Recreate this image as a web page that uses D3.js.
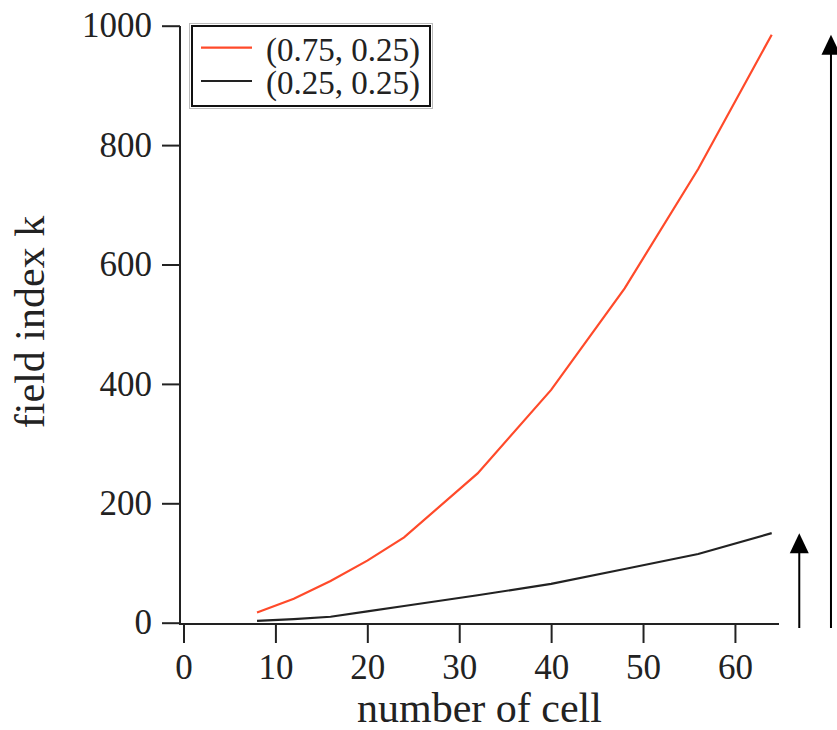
<!DOCTYPE html>
<html>
<head>
<meta charset="utf-8">
<script src="https://cdn.jsdelivr.net/npm/d3@7"></script>
<style>
  body { margin: 0; background: #fff; }
  text { font-family: "Liberation Serif", "DejaVu Serif", serif; fill: #222; }
</style>
</head>
<body>
<svg></svg>
<script>
var width = 837;
var height = 730;

// number of cells
var cells = [8, 12, 16, 20, 24, 32, 40, 48, 56, 64];
// field index k for (0.75, 0.25)
var kHigh = [17, 40, 70, 104, 143, 250, 390, 560, 760, 985];
// field index k for (0.25, 0.25)
var kLow = [3, 6, 10, 19, 28, 46, 65, 90, 115, 150];

var seriesNames = ["(0.75, 0.25)", "(0.25, 0.25)"];
var seriesColors = ["#ff4a2a", "#222222"];

var xTicks = [0, 10, 20, 30, 40, 50, 60];
var yTicks = [0, 200, 400, 600, 800, 1000];

// arrows on the right mark the final values
var arrowX = [67, 70.45];

var x = d3.scaleLinear().domain([0, 64]).range([183.5, 771.7]);
var y = d3.scaleLinear().domain([0, 1000]).range([622.7, 25.7]);

var svg = d3.select("svg").attr("width", width).attr("height", height);

// axis lines (the L shape)
svg.append("path")
  .attr("d", `M180,26 V624 H779`)
  .attr("fill", "none")
  .attr("stroke", "#222")
  .attr("stroke-width", 2);

var yAxis = svg.append("g")
  .attr("transform", "translate(180,0)")
  .call(d3.axisLeft(y).tickValues(yTicks).tickFormat(d3.format("d")).tickSize(18).tickPadding(10));
var xAxis = svg.append("g")
  .attr("transform", "translate(0,624)")
  .call(d3.axisBottom(x).tickValues(xTicks).tickFormat(d3.format("d")).tickSize(19).tickPadding(11));

[xAxis, yAxis].forEach(function (g) {
  g.select(".domain").remove();
  g.selectAll(".tick line").attr("stroke", "#222").attr("stroke-width", 2);
  g.selectAll(".tick text")
    .attr("font-family", "Liberation Serif")
    .attr("font-size", 35)
    .attr("fill", "#222");
});

// axis titles
svg.append("text")
  .attr("x", 479.5)
  .attr("y", 722)
  .attr("text-anchor", "middle")
  .attr("font-size", 42)
  .text("number of cell");

svg.append("text")
  .attr("transform", "translate(44,322) rotate(-90)")
  .attr("text-anchor", "middle")
  .attr("font-size", 42)
  .text("field index k");

// lines
var line = d3.line()
  .x((d) => x(d[0]))
  .y((d) => y(d[1]));

var series = [kHigh, kLow];
svg.selectAll(".series")
  .data(series)
  .enter()
  .append("path")
  .classed("series", true)
  .attr("fill", "none")
  .attr("stroke", (d, i) => seriesColors[i])
  .attr("stroke-width", 2.2)
  .attr("d", (d) => line(cells.map((c, j) => [c, d[j]])));

// arrows up to the last value of each series
var lastValues = [kLow[kLow.length - 1], kHigh[kHigh.length - 1]];
lastValues.forEach(function (v, i) {
  var ax = x(arrowX[i]);
  var tip = y(v);
  svg.append("line")
    .attr("x1", ax).attr("x2", ax)
    .attr("y1", 628).attr("y2", tip + 18)
    .attr("stroke", "#000")
    .attr("stroke-width", 2);
  svg.append("path")
    .attr("d", `M${ax},${tip} L${ax - 9.5},${tip + 20} L${ax + 9.5},${tip + 20} Z`)
    .attr("fill", "#000");
});

// legend
var legend = svg.append("g");
legend.append("rect")
  .attr("x", 189.5).attr("y", 23.5)
  .attr("width", 243).attr("height", 85)
  .attr("fill", "#fff")
  .attr("stroke", "#bbb")
  .attr("stroke-width", 1);
legend.append("rect")
  .attr("x", 192).attr("y", 26)
  .attr("width", 238).attr("height", 80)
  .attr("fill", "none")
  .attr("stroke", "#111")
  .attr("stroke-width", 2);

seriesNames.forEach(function (name, i) {
  var ly = 47.7 + i * 33.3;
  legend.append("line")
    .attr("x1", 201).attr("x2", 252)
    .attr("y1", ly).attr("y2", ly)
    .attr("stroke", seriesColors[i])
    .attr("stroke-width", 2.2);
  legend.append("text")
    .attr("x", 266)
    .attr("y", ly + 13)
    .attr("font-size", 33)
    .text(name);
});
</script>
</body>
</html>
